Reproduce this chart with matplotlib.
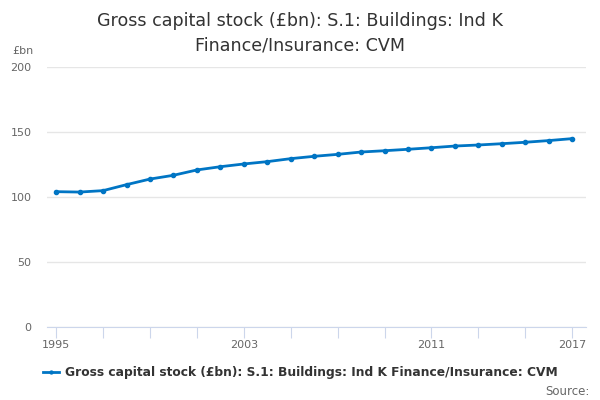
import matplotlib
matplotlib.use("Agg")
import matplotlib.pyplot as plt

years = list(range(1995, 2018))
values = [104.1, 103.8, 104.9, 109.5, 113.8, 116.7, 120.8, 123.3, 125.4, 127.2,
          129.5, 131.3, 132.8, 134.6, 135.6, 136.7, 137.9, 139.2, 140.0, 141.0,
          142.1, 143.4, 144.9]
tick_years = list(range(1995, 2018, 2))
label_years = [1995, 2003, 2011, 2017]
y_ticks = [0, 50, 100, 150, 200]
series_name = "Gross capital stock (£bn): S.1: Buildings: Ind K Finance/Insurance: CVM"
line_color = "#0075C4"

plt.rcParams["font.family"] = ["DejaVu Sans"]

fig = plt.figure(figsize=(6, 4), dpi=100)
ax = fig.add_axes([0.078, 0.1825, 0.899, 0.65])

ax.plot(years, values, color=line_color, linewidth=2, marker="o", markersize=3)

ax.set_ylim(0, 200)
ax.set_xlim(1994.6, 2017.6)
ax.set_yticks(y_ticks)
ax.set_yticklabels([str(v) for v in y_ticks], color="#666666", fontsize=8)
ax.grid(axis="y", color="#e6e6e6", linewidth=1)
ax.set_axisbelow(True)

# ticks every two years, labels only on some
ax.set_xticks(tick_years)
xt = [str(y) if y in label_years else "" for y in tick_years]
ax.set_xticklabels(xt, color="#666666", fontsize=8)
ax.set_xticks([2017], minor=True)
ax.set_xticklabels(["2017"], minor=True, color="#666666", fontsize=8)
ax.tick_params(axis="x", which="both", length=8, color="#ccd6eb", pad=1)
ax.tick_params(axis="y", length=0, pad=11)

for s in ["top", "right", "left"]:
    ax.spines[s].set_visible(False)
ax.spines["bottom"].set_color("#ccd6eb")

fig.text(0.5, 0.917, "Gross capital stock (£bn): S.1: Buildings: Ind K\nFinance/Insurance: CVM",
         ha="center", va="center", fontsize=12.6, color="#333333", linespacing=1.45)
fig.text(0.02, 0.873, "£bn", fontsize=8, color="#666666", ha="left", va="center")

fig.legend(handles=ax.get_lines(), labels=[series_name], loc="center",
           bbox_to_anchor=(0.5, 0.068), frameon=False, handlelength=1.3,
           handletextpad=0.5, markerscale=0.7,
           prop={"weight": "bold", "size": 8.8}, labelcolor="#333333")
fig.text(0.982, 0.022, "Source:", fontsize=8.5, color="#666666", ha="right", va="center")

fig.savefig("out.png", dpi=100)
